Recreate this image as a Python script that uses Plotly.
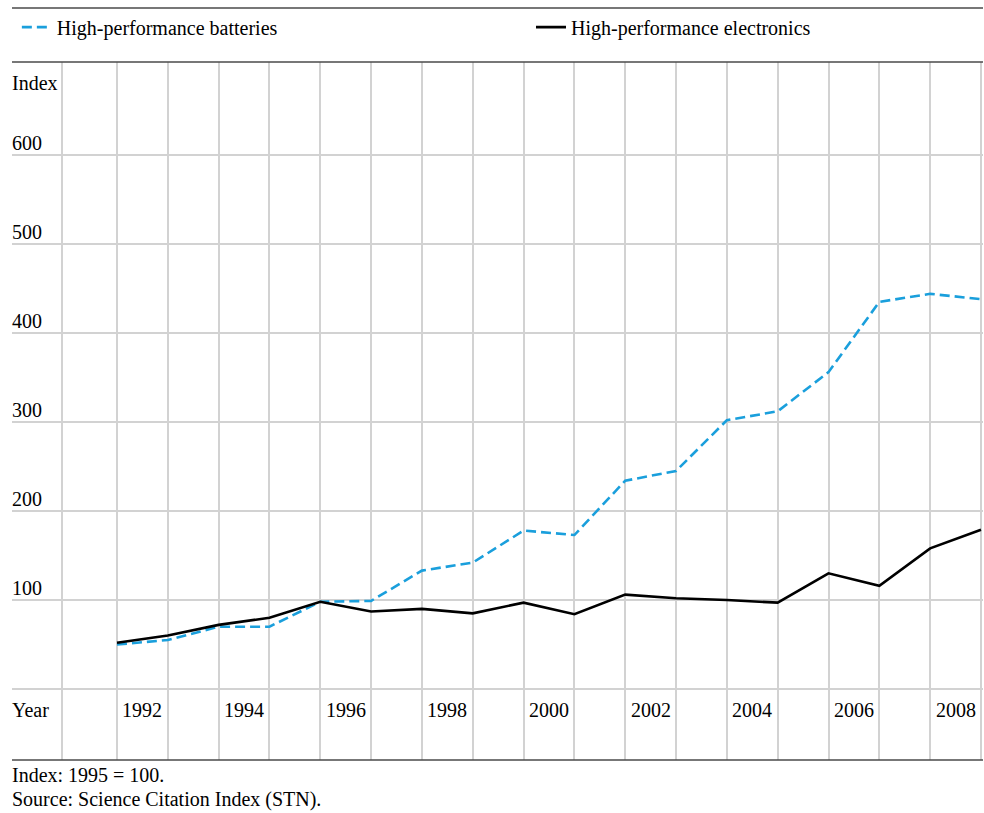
import plotly.graph_objects as go

# data (index, 1995 = 100)
years = list(range(1991, 2009))
batteries = [50, 55, 70, 70, 98, 99, 133, 142, 178, 173, 234, 245, 302, 312, 356, 435, 444, 438]
electronics = [52, 60, 72, 80, 98, 87, 90, 85, 97, 84, 106, 102, 100, 97, 130, 116, 158, 179]

year_labels = [1992, 1994, 1996, 1998, 2000, 2002, 2004, 2006, 2008]
y_ticks = [0, 100, 200, 300, 400, 500, 600]

FONT = "Liberation Serif"
FS = 20
GRID = "#d2d2d2"

fig = go.Figure()

fig.add_trace(go.Scatter(
    x=years, y=batteries, mode="lines", name="High-performance batteries",
    line=dict(color="#1a9fdc", width=2.6, dash="10px,5px"), legend="legend"
))
fig.add_trace(go.Scatter(
    x=years, y=electronics, mode="lines", name="High-performance electronics",
    line=dict(color="#000000", width=2.6), legend="legend2"
))

# y tick labels sit above their gridlines, left aligned
for v in y_ticks[1:]:
    fig.add_annotation(x=0, xref="paper", y=v, yref="y", text=str(v), xshift=-2,
                       showarrow=False, xanchor="left", yanchor="bottom", yshift=-1)

# year labels centred between the gridlines
for yr in year_labels:
    fig.add_annotation(x=yr - 0.5, xref="x", y=-23.5, yref="y", text=str(yr),
                       showarrow=False, xanchor="center", yanchor="middle")

fig.add_annotation(x=0, xref="paper", y=681, yref="y", text="Index", xshift=-2,
                   showarrow=False, xanchor="left", yanchor="middle")
fig.add_annotation(x=0, xref="paper", y=-23.5, yref="y", text="Year", xshift=-2,
                   showarrow=False, xanchor="left", yanchor="middle")

fig.add_annotation(x=0, xref="paper", y=-0.021, yref="paper", text="Index: 1995 = 100.",
                   xshift=-2, showarrow=False, xanchor="left", yanchor="middle")
fig.add_annotation(x=0, xref="paper", y=-0.057, yref="paper",
                   text="Source: Science Citation Index (STN).", xshift=-2,
                   showarrow=False, xanchor="left", yanchor="middle")

# rules above/below the legend and under the chart
for yp in [1.0774, 1.0, 0.0]:
    fig.add_shape(type="line", xref="paper", yref="paper", x0=0, x1=1, y0=yp, y1=yp,
                  line=dict(color="#4a4a4a", width=1.5))

leg = dict(orientation="h", xanchor="left", y=1.05, yanchor="middle",
           font=dict(family=FONT, size=FS, color="black"), bgcolor="rgba(0,0,0,0)")

fig.update_layout(
    width=984, height=813,
    margin=dict(l=12, r=1, t=62, b=53),
    paper_bgcolor="white", plot_bgcolor="white",
    font=dict(family=FONT, size=FS, color="black"),
    showlegend=True,
    legend=dict(leg, x=0.005),
    legend2=dict(leg, x=0.5345),
    xaxis=dict(range=[1988.934, 2008.04], tickmode="array",
               tickvals=[1989.92] + years, showticklabels=False,
               showgrid=True, gridcolor=GRID, gridwidth=1.5, zeroline=False,
               showline=False, ticks=""),
    yaxis=dict(range=[-79.8, 704.5], tickmode="array", tickvals=y_ticks,
               showticklabels=False, showgrid=True, gridcolor=GRID, gridwidth=1.5,
               zeroline=False, showline=False, ticks=""),
)

fig.write_html("out.html", config={"displayModeBar": False},
               post_script="document.body.style.margin='0';document.body.style.overflow='hidden';")
